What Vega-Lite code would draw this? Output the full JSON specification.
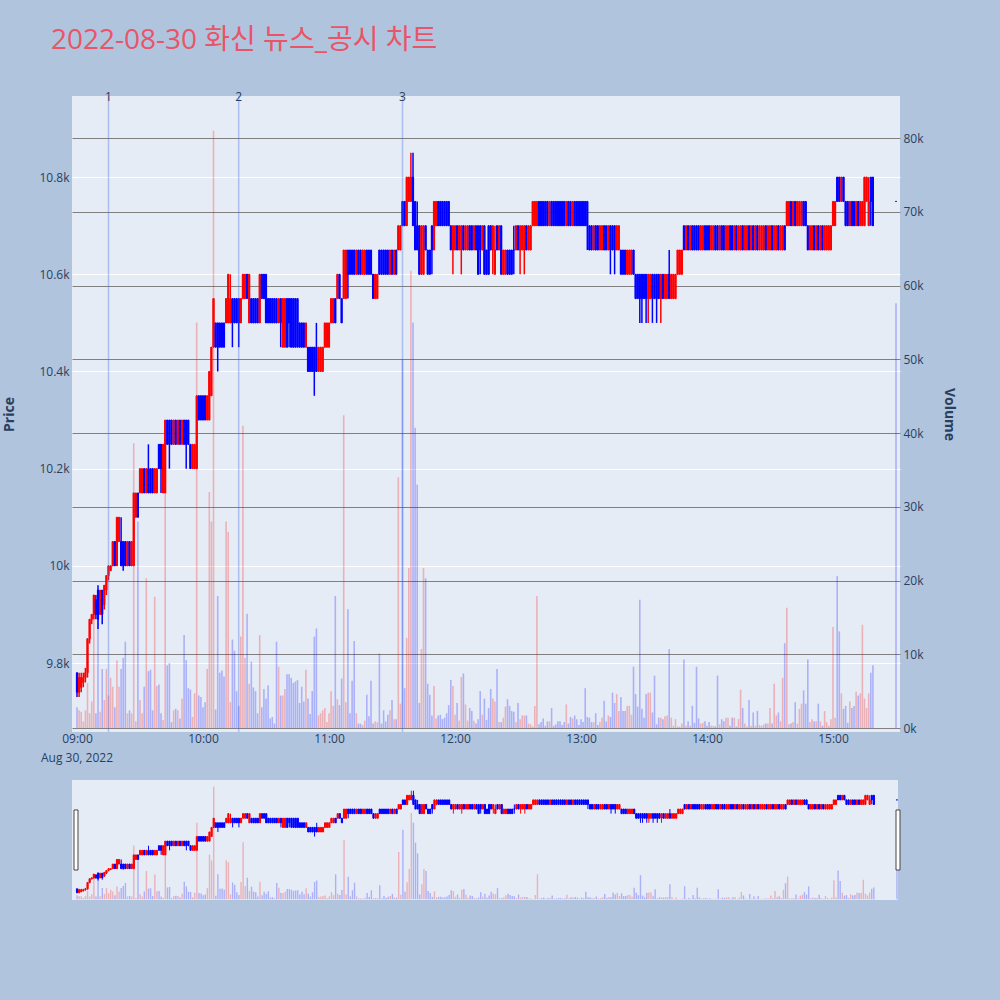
{
"$schema":"https://vega.github.io/schema/vega-lite/v6.json",
"padding":{"left":2,"top":27,"right":44,"bottom":100},
"title":{"text":"2022-08-30 화신 뉴스_공시 차트","anchor":"start","frame":"bounds","dx":48,"offset":36,"fontSize":28,"font":"Open Sans, Noto Sans CJK KR","fontWeight":"normal","color":"#EA5468"},
"config":{"background":"#B0C4DE","view":{"fill":"#E5ECF6","stroke":null},"font":"Open Sans","axis":{"labelColor":"#2a3f5f","titleColor":"#2a3f5f","labelFont":"Open Sans","titleFont":"Open Sans","labelFontSize":12,"titleFontSize":14,"domain":false,"ticks":false}},
"datasets":{
"news":[{"t":"2022-08-30 09:15","n":"1"},{"t":"2022-08-30 10:17","n":"2"},{"t":"2022-08-30 11:35","n":"3"}],
"date":[{"t":"2022-08-30 09:00"}],
"handles":[{"t":"2022-08-30 08:59:30"},{"t":"2022-08-30 15:30:30"}],
"candles":[
{"t":"2022-08-30 09:00","o":9780,"h":9780,"l":9730,"c":9740,"v":2800},
{"t":"2022-08-30 09:01","o":9740,"h":9780,"l":9730,"c":9770,"v":2400},
{"t":"2022-08-30 09:02","o":9750,"h":9780,"l":9740,"c":9770,"v":2200},
{"t":"2022-08-30 09:03","o":9760,"h":9780,"l":9750,"c":9770,"v":900},
{"t":"2022-08-30 09:04","o":9770,"h":9790,"l":9760,"c":9780,"v":2400},
{"t":"2022-08-30 09:05","o":9780,"h":9850,"l":9770,"c":9850,"v":6100},
{"t":"2022-08-30 09:06","o":9850,"h":9890,"l":9840,"c":9890,"v":2000},
{"t":"2022-08-30 09:07","o":9890,"h":9900,"l":9880,"c":9900,"v":3600},
{"t":"2022-08-30 09:08","o":9900,"h":9940,"l":9890,"c":9940,"v":18000},
{"t":"2022-08-30 09:09","o":9930,"h":9940,"l":9890,"c":9900,"v":2000},
{"t":"2022-08-30 09:10","o":9950,"h":9960,"l":9870,"c":9890,"v":14600},
{"t":"2022-08-30 09:11","o":9900,"h":9950,"l":9900,"c":9950,"v":2200},
{"t":"2022-08-30 09:12","o":9950,"h":9950,"l":9880,"c":9900,"v":8000},
{"t":"2022-08-30 09:13","o":9920,"h":9960,"l":9910,"c":9960,"v":3800},
{"t":"2022-08-30 09:14","o":9950,"h":9980,"l":9940,"c":9980,"v":8000},
{"t":"2022-08-30 09:15","o":9980,"h":10000,"l":9970,"c":10000,"v":4400},
{"t":"2022-08-30 09:16","o":9990,"h":10000,"l":9990,"c":10000,"v":6800},
{"t":"2022-08-30 09:17","o":10000,"h":10050,"l":10000,"c":10050,"v":5600},
{"t":"2022-08-30 09:18","o":10050,"h":10050,"l":10000,"c":10000,"v":2800},
{"t":"2022-08-30 09:19","o":10000,"h":10100,"l":10000,"c":10100,"v":9200},
{"t":"2022-08-30 09:20","o":10050,"h":10100,"l":10050,"c":10100,"v":5600},
{"t":"2022-08-30 09:21","o":10050,"h":10100,"l":10000,"c":10000,"v":8000},
{"t":"2022-08-30 09:22","o":10050,"h":10050,"l":9990,"c":10000,"v":9500},
{"t":"2022-08-30 09:23","o":10050,"h":10050,"l":10000,"c":10000,"v":11700},
{"t":"2022-08-30 09:24","o":10000,"h":10050,"l":10000,"c":10050,"v":2000},
{"t":"2022-08-30 09:25","o":10050,"h":10050,"l":10000,"c":10000,"v":2400},
{"t":"2022-08-30 09:26","o":10000,"h":10050,"l":10000,"c":10050,"v":2000},
{"t":"2022-08-30 09:27","o":10000,"h":10150,"l":10000,"c":10150,"v":38600},
{"t":"2022-08-30 09:28","o":10100,"h":10150,"l":10100,"c":10150,"v":900},
{"t":"2022-08-30 09:29","o":10150,"h":10150,"l":10100,"c":10100,"v":28000},
{"t":"2022-08-30 09:30","o":10150,"h":10200,"l":10150,"c":10200,"v":3800},
{"t":"2022-08-30 09:31","o":10150,"h":10200,"l":10150,"c":10200,"v":2000},
{"t":"2022-08-30 09:32","o":10200,"h":10200,"l":10150,"c":10150,"v":5600},
{"t":"2022-08-30 09:33","o":10150,"h":10200,"l":10150,"c":10200,"v":20300},
{"t":"2022-08-30 09:34","o":10200,"h":10250,"l":10150,"c":10150,"v":7700},
{"t":"2022-08-30 09:35","o":10200,"h":10200,"l":10150,"c":10150,"v":7900},
{"t":"2022-08-30 09:36","o":10200,"h":10200,"l":10150,"c":10150,"v":2400},
{"t":"2022-08-30 09:37","o":10150,"h":10200,"l":10150,"c":10200,"v":17800},
{"t":"2022-08-30 09:38","o":10150,"h":10200,"l":10150,"c":10200,"v":5700},
{"t":"2022-08-30 09:39","o":10250,"h":10250,"l":10200,"c":10200,"v":5900},
{"t":"2022-08-30 09:40","o":10250,"h":10250,"l":10150,"c":10200,"v":2000},
{"t":"2022-08-30 09:41","o":10150,"h":10250,"l":10150,"c":10250,"v":1100},
{"t":"2022-08-30 09:42","o":10150,"h":10300,"l":10150,"c":10300,"v":32000},
{"t":"2022-08-30 09:43","o":10300,"h":10300,"l":10250,"c":10250,"v":8500},
{"t":"2022-08-30 09:44","o":10300,"h":10300,"l":10200,"c":10250,"v":8800},
{"t":"2022-08-30 09:45","o":10300,"h":10300,"l":10250,"c":10250,"v":800},
{"t":"2022-08-30 09:46","o":10250,"h":10300,"l":10250,"c":10300,"v":2400},
{"t":"2022-08-30 09:47","o":10300,"h":10300,"l":10250,"c":10250,"v":2600},
{"t":"2022-08-30 09:48","o":10250,"h":10300,"l":10250,"c":10300,"v":2400},
{"t":"2022-08-30 09:49","o":10300,"h":10300,"l":10250,"c":10250,"v":1300},
{"t":"2022-08-30 09:50","o":10250,"h":10300,"l":10250,"c":10300,"v":4000},
{"t":"2022-08-30 09:51","o":10300,"h":10300,"l":10250,"c":10250,"v":12600},
{"t":"2022-08-30 09:52","o":10300,"h":10300,"l":10200,"c":10250,"v":9200},
{"t":"2022-08-30 09:53","o":10300,"h":10300,"l":10250,"c":10250,"v":5400},
{"t":"2022-08-30 09:54","o":10250,"h":10250,"l":10200,"c":10200,"v":5200},
{"t":"2022-08-30 09:55","o":10200,"h":10250,"l":10200,"c":10250,"v":1500},
{"t":"2022-08-30 09:56","o":10200,"h":10250,"l":10200,"c":10250,"v":4700},
{"t":"2022-08-30 09:57","o":10200,"h":10350,"l":10200,"c":10350,"v":55000},
{"t":"2022-08-30 09:58","o":10350,"h":10350,"l":10300,"c":10300,"v":4400},
{"t":"2022-08-30 09:59","o":10350,"h":10350,"l":10300,"c":10300,"v":4200},
{"t":"2022-08-30 10:00","o":10350,"h":10350,"l":10300,"c":10300,"v":2800},
{"t":"2022-08-30 10:01","o":10350,"h":10350,"l":10300,"c":10300,"v":3500},
{"t":"2022-08-30 10:02","o":10300,"h":10350,"l":10300,"c":10350,"v":8000},
{"t":"2022-08-30 10:03","o":10300,"h":10400,"l":10300,"c":10400,"v":32000},
{"t":"2022-08-30 10:04","o":10350,"h":10450,"l":10350,"c":10450,"v":28000},
{"t":"2022-08-30 10:05","o":10450,"h":10550,"l":10450,"c":10550,"v":81000},
{"t":"2022-08-30 10:06","o":10500,"h":10500,"l":10450,"c":10450,"v":2500},
{"t":"2022-08-30 10:07","o":10500,"h":10500,"l":10400,"c":10450,"v":17900},
{"t":"2022-08-30 10:08","o":10500,"h":10500,"l":10450,"c":10450,"v":7500},
{"t":"2022-08-30 10:09","o":10500,"h":10500,"l":10450,"c":10450,"v":7800},
{"t":"2022-08-30 10:10","o":10500,"h":10500,"l":10450,"c":10450,"v":7000},
{"t":"2022-08-30 10:11","o":10500,"h":10550,"l":10500,"c":10550,"v":28000},
{"t":"2022-08-30 10:12","o":10500,"h":10600,"l":10500,"c":10600,"v":26600},
{"t":"2022-08-30 10:13","o":10500,"h":10600,"l":10500,"c":10550,"v":3500},
{"t":"2022-08-30 10:14","o":10550,"h":10550,"l":10450,"c":10500,"v":12000},
{"t":"2022-08-30 10:15","o":10550,"h":10550,"l":10500,"c":10500,"v":10500},
{"t":"2022-08-30 10:16","o":10550,"h":10550,"l":10500,"c":10500,"v":5000},
{"t":"2022-08-30 10:17","o":10550,"h":10550,"l":10450,"c":10500,"v":3000},
{"t":"2022-08-30 10:18","o":10500,"h":10550,"l":10500,"c":10550,"v":12400},
{"t":"2022-08-30 10:19","o":10550,"h":10600,"l":10550,"c":10600,"v":41000},
{"t":"2022-08-30 10:20","o":10550,"h":10600,"l":10550,"c":10600,"v":9500},
{"t":"2022-08-30 10:21","o":10600,"h":10600,"l":10550,"c":10550,"v":15500},
{"t":"2022-08-30 10:22","o":10500,"h":10600,"l":10500,"c":10600,"v":6000},
{"t":"2022-08-30 10:23","o":10550,"h":10550,"l":10500,"c":10500,"v":9000},
{"t":"2022-08-30 10:24","o":10550,"h":10550,"l":10500,"c":10500,"v":5500},
{"t":"2022-08-30 10:25","o":10550,"h":10550,"l":10500,"c":10500,"v":5000},
{"t":"2022-08-30 10:26","o":10550,"h":10550,"l":10500,"c":10500,"v":2000},
{"t":"2022-08-30 10:27","o":10500,"h":10600,"l":10500,"c":10600,"v":12600},
{"t":"2022-08-30 10:28","o":10600,"h":10600,"l":10550,"c":10550,"v":2800},
{"t":"2022-08-30 10:29","o":10600,"h":10600,"l":10550,"c":10550,"v":5300},
{"t":"2022-08-30 10:30","o":10600,"h":10600,"l":10500,"c":10500,"v":4000},
{"t":"2022-08-30 10:31","o":10550,"h":10550,"l":10500,"c":10500,"v":5800},
{"t":"2022-08-30 10:32","o":10550,"h":10550,"l":10500,"c":10500,"v":1300},
{"t":"2022-08-30 10:33","o":10550,"h":10550,"l":10500,"c":10500,"v":1500},
{"t":"2022-08-30 10:34","o":10550,"h":10550,"l":10500,"c":10500,"v":600},
{"t":"2022-08-30 10:35","o":10550,"h":10550,"l":10500,"c":10500,"v":11700},
{"t":"2022-08-30 10:36","o":10500,"h":10550,"l":10500,"c":10550,"v":8300},
{"t":"2022-08-30 10:37","o":10550,"h":10550,"l":10450,"c":10500,"v":4400},
{"t":"2022-08-30 10:38","o":10450,"h":10550,"l":10450,"c":10550,"v":4400},
{"t":"2022-08-30 10:39","o":10450,"h":10550,"l":10450,"c":10550,"v":5300},
{"t":"2022-08-30 10:40","o":10550,"h":10550,"l":10450,"c":10450,"v":7300},
{"t":"2022-08-30 10:41","o":10550,"h":10550,"l":10450,"c":10500,"v":7300},
{"t":"2022-08-30 10:42","o":10550,"h":10550,"l":10450,"c":10450,"v":6800},
{"t":"2022-08-30 10:43","o":10550,"h":10550,"l":10450,"c":10450,"v":6100},
{"t":"2022-08-30 10:44","o":10550,"h":10550,"l":10450,"c":10450,"v":6300},
{"t":"2022-08-30 10:45","o":10550,"h":10550,"l":10450,"c":10450,"v":6500},
{"t":"2022-08-30 10:46","o":10500,"h":10500,"l":10450,"c":10450,"v":3400},
{"t":"2022-08-30 10:47","o":10500,"h":10500,"l":10450,"c":10450,"v":5600},
{"t":"2022-08-30 10:48","o":10500,"h":10500,"l":10450,"c":10450,"v":3600},
{"t":"2022-08-30 10:49","o":10450,"h":10500,"l":10450,"c":10500,"v":7900},
{"t":"2022-08-30 10:50","o":10450,"h":10450,"l":10400,"c":10400,"v":4000},
{"t":"2022-08-30 10:51","o":10450,"h":10450,"l":10400,"c":10400,"v":1900},
{"t":"2022-08-30 10:52","o":10450,"h":10450,"l":10400,"c":10400,"v":5000},
{"t":"2022-08-30 10:53","o":10450,"h":10450,"l":10350,"c":10400,"v":12400},
{"t":"2022-08-30 10:54","o":10450,"h":10500,"l":10400,"c":10400,"v":13500},
{"t":"2022-08-30 10:55","o":10400,"h":10450,"l":10400,"c":10450,"v":1700},
{"t":"2022-08-30 10:56","o":10400,"h":10450,"l":10400,"c":10450,"v":2000},
{"t":"2022-08-30 10:57","o":10400,"h":10450,"l":10400,"c":10450,"v":2400},
{"t":"2022-08-30 10:58","o":10450,"h":10500,"l":10450,"c":10500,"v":2700},
{"t":"2022-08-30 10:59","o":10450,"h":10500,"l":10450,"c":10500,"v":800},
{"t":"2022-08-30 11:00","o":10450,"h":10500,"l":10450,"c":10500,"v":2000},
{"t":"2022-08-30 11:01","o":10500,"h":10550,"l":10500,"c":10550,"v":5000},
{"t":"2022-08-30 11:02","o":10500,"h":10550,"l":10500,"c":10550,"v":3000},
{"t":"2022-08-30 11:03","o":10550,"h":10550,"l":10500,"c":10500,"v":17900},
{"t":"2022-08-30 11:04","o":10550,"h":10600,"l":10550,"c":10600,"v":3900},
{"t":"2022-08-30 11:05","o":10600,"h":10600,"l":10550,"c":10550,"v":3100},
{"t":"2022-08-30 11:06","o":10550,"h":10550,"l":10500,"c":10500,"v":6700},
{"t":"2022-08-30 11:07","o":10550,"h":10650,"l":10550,"c":10650,"v":42400},
{"t":"2022-08-30 11:08","o":10550,"h":10650,"l":10550,"c":10650,"v":3500},
{"t":"2022-08-30 11:09","o":10650,"h":10650,"l":10550,"c":10600,"v":16100},
{"t":"2022-08-30 11:10","o":10650,"h":10650,"l":10600,"c":10600,"v":2000},
{"t":"2022-08-30 11:11","o":10650,"h":10650,"l":10600,"c":10600,"v":6400},
{"t":"2022-08-30 11:12","o":10650,"h":10650,"l":10600,"c":10600,"v":11800},
{"t":"2022-08-30 11:13","o":10600,"h":10650,"l":10600,"c":10650,"v":2000},
{"t":"2022-08-30 11:14","o":10650,"h":10650,"l":10600,"c":10600,"v":600},
{"t":"2022-08-30 11:15","o":10650,"h":10650,"l":10600,"c":10600,"v":600},
{"t":"2022-08-30 11:16","o":10600,"h":10650,"l":10600,"c":10650,"v":400},
{"t":"2022-08-30 11:17","o":10600,"h":10650,"l":10600,"c":10650,"v":1000},
{"t":"2022-08-30 11:18","o":10650,"h":10650,"l":10600,"c":10600,"v":4500},
{"t":"2022-08-30 11:19","o":10650,"h":10650,"l":10600,"c":10600,"v":1600},
{"t":"2022-08-30 11:20","o":10650,"h":10650,"l":10600,"c":10600,"v":6400},
{"t":"2022-08-30 11:21","o":10600,"h":10600,"l":10550,"c":10550,"v":600},
{"t":"2022-08-30 11:22","o":10550,"h":10600,"l":10550,"c":10600,"v":900},
{"t":"2022-08-30 11:23","o":10550,"h":10600,"l":10550,"c":10600,"v":800},
{"t":"2022-08-30 11:24","o":10650,"h":10650,"l":10600,"c":10600,"v":10100},
{"t":"2022-08-30 11:25","o":10650,"h":10650,"l":10600,"c":10600,"v":600},
{"t":"2022-08-30 11:26","o":10650,"h":10650,"l":10600,"c":10600,"v":2400},
{"t":"2022-08-30 11:27","o":10650,"h":10650,"l":10600,"c":10600,"v":900},
{"t":"2022-08-30 11:28","o":10650,"h":10650,"l":10600,"c":10600,"v":1800},
{"t":"2022-08-30 11:29","o":10600,"h":10650,"l":10600,"c":10650,"v":2400},
{"t":"2022-08-30 11:30","o":10650,"h":10650,"l":10600,"c":10600,"v":3800},
{"t":"2022-08-30 11:31","o":10600,"h":10650,"l":10600,"c":10650,"v":1200},
{"t":"2022-08-30 11:32","o":10650,"h":10650,"l":10600,"c":10600,"v":1200},
{"t":"2022-08-30 11:33","o":10650,"h":10700,"l":10650,"c":10700,"v":34000},
{"t":"2022-08-30 11:34","o":10650,"h":10700,"l":10650,"c":10700,"v":3300},
{"t":"2022-08-30 11:35","o":10750,"h":10750,"l":10700,"c":10700,"v":50000},
{"t":"2022-08-30 11:36","o":10750,"h":10750,"l":10700,"c":10700,"v":5400},
{"t":"2022-08-30 11:37","o":10700,"h":10800,"l":10700,"c":10800,"v":12200},
{"t":"2022-08-30 11:38","o":10750,"h":10800,"l":10750,"c":10800,"v":21700},
{"t":"2022-08-30 11:39","o":10750,"h":10850,"l":10750,"c":10800,"v":62000},
{"t":"2022-08-30 11:40","o":10800,"h":10850,"l":10700,"c":10700,"v":55000},
{"t":"2022-08-30 11:41","o":10750,"h":10750,"l":10650,"c":10650,"v":40700},
{"t":"2022-08-30 11:42","o":10700,"h":10750,"l":10650,"c":10650,"v":33000},
{"t":"2022-08-30 11:43","o":10700,"h":10700,"l":10600,"c":10600,"v":3400},
{"t":"2022-08-30 11:44","o":10600,"h":10700,"l":10600,"c":10700,"v":10700},
{"t":"2022-08-30 11:45","o":10600,"h":10700,"l":10600,"c":10700,"v":21700},
{"t":"2022-08-30 11:46","o":10700,"h":10700,"l":10650,"c":10650,"v":20300},
{"t":"2022-08-30 11:47","o":10650,"h":10650,"l":10600,"c":10600,"v":6000},
{"t":"2022-08-30 11:48","o":10650,"h":10650,"l":10600,"c":10600,"v":4500},
{"t":"2022-08-30 11:49","o":10700,"h":10700,"l":10600,"c":10650,"v":1700},
{"t":"2022-08-30 11:50","o":10650,"h":10750,"l":10650,"c":10750,"v":5700},
{"t":"2022-08-30 11:51","o":10700,"h":10750,"l":10700,"c":10750,"v":1300},
{"t":"2022-08-30 11:52","o":10750,"h":10750,"l":10700,"c":10700,"v":1700},
{"t":"2022-08-30 11:53","o":10750,"h":10750,"l":10700,"c":10700,"v":1800},
{"t":"2022-08-30 11:54","o":10750,"h":10750,"l":10700,"c":10700,"v":1200},
{"t":"2022-08-30 11:55","o":10750,"h":10750,"l":10700,"c":10700,"v":1400},
{"t":"2022-08-30 11:56","o":10750,"h":10750,"l":10700,"c":10700,"v":2000},
{"t":"2022-08-30 11:57","o":10750,"h":10750,"l":10700,"c":10700,"v":3100},
{"t":"2022-08-30 11:58","o":10700,"h":10700,"l":10650,"c":10650,"v":6500},
{"t":"2022-08-30 11:59","o":10650,"h":10700,"l":10600,"c":10700,"v":5700},
{"t":"2022-08-30 12:00","o":10650,"h":10700,"l":10650,"c":10700,"v":1800},
{"t":"2022-08-30 12:01","o":10700,"h":10700,"l":10650,"c":10650,"v":3400},
{"t":"2022-08-30 12:02","o":10650,"h":10700,"l":10650,"c":10700,"v":1000},
{"t":"2022-08-30 12:03","o":10650,"h":10700,"l":10600,"c":10700,"v":6900},
{"t":"2022-08-30 12:04","o":10700,"h":10700,"l":10650,"c":10650,"v":7400},
{"t":"2022-08-30 12:05","o":10650,"h":10700,"l":10650,"c":10700,"v":3200},
{"t":"2022-08-30 12:06","o":10650,"h":10700,"l":10650,"c":10700,"v":1000},
{"t":"2022-08-30 12:07","o":10700,"h":10700,"l":10650,"c":10650,"v":2700},
{"t":"2022-08-30 12:08","o":10700,"h":10700,"l":10650,"c":10650,"v":2300},
{"t":"2022-08-30 12:09","o":10650,"h":10700,"l":10650,"c":10700,"v":1000},
{"t":"2022-08-30 12:10","o":10700,"h":10700,"l":10650,"c":10650,"v":600},
{"t":"2022-08-30 12:11","o":10700,"h":10700,"l":10600,"c":10600,"v":1200},
{"t":"2022-08-30 12:12","o":10700,"h":10700,"l":10600,"c":10650,"v":5000},
{"t":"2022-08-30 12:13","o":10650,"h":10700,"l":10650,"c":10700,"v":1800},
{"t":"2022-08-30 12:14","o":10700,"h":10700,"l":10600,"c":10600,"v":4000},
{"t":"2022-08-30 12:15","o":10650,"h":10650,"l":10600,"c":10600,"v":1100},
{"t":"2022-08-30 12:16","o":10700,"h":10700,"l":10600,"c":10600,"v":2700},
{"t":"2022-08-30 12:17","o":10700,"h":10700,"l":10650,"c":10650,"v":5300},
{"t":"2022-08-30 12:18","o":10650,"h":10700,"l":10600,"c":10700,"v":4000},
{"t":"2022-08-30 12:19","o":10600,"h":10700,"l":10600,"c":10650,"v":3600},
{"t":"2022-08-30 12:20","o":10700,"h":10700,"l":10650,"c":10650,"v":8000},
{"t":"2022-08-30 12:21","o":10650,"h":10700,"l":10650,"c":10700,"v":800},
{"t":"2022-08-30 12:22","o":10700,"h":10700,"l":10600,"c":10600,"v":800},
{"t":"2022-08-30 12:23","o":10600,"h":10650,"l":10600,"c":10650,"v":1400},
{"t":"2022-08-30 12:24","o":10600,"h":10650,"l":10600,"c":10650,"v":2900},
{"t":"2022-08-30 12:25","o":10650,"h":10650,"l":10600,"c":10600,"v":3900},
{"t":"2022-08-30 12:26","o":10650,"h":10650,"l":10600,"c":10600,"v":3000},
{"t":"2022-08-30 12:27","o":10650,"h":10650,"l":10600,"c":10600,"v":2300},
{"t":"2022-08-30 12:28","o":10650,"h":10700,"l":10600,"c":10650,"v":2200},
{"t":"2022-08-30 12:29","o":10650,"h":10700,"l":10650,"c":10700,"v":800},
{"t":"2022-08-30 12:30","o":10700,"h":10700,"l":10650,"c":10650,"v":3400},
{"t":"2022-08-30 12:31","o":10650,"h":10700,"l":10600,"c":10700,"v":1200},
{"t":"2022-08-30 12:32","o":10650,"h":10700,"l":10650,"c":10700,"v":1700},
{"t":"2022-08-30 12:33","o":10650,"h":10700,"l":10600,"c":10700,"v":1700},
{"t":"2022-08-30 12:34","o":10700,"h":10700,"l":10650,"c":10650,"v":1700},
{"t":"2022-08-30 12:35","o":10650,"h":10700,"l":10650,"c":10700,"v":600},
{"t":"2022-08-30 12:36","o":10650,"h":10700,"l":10650,"c":10700,"v":500},
{"t":"2022-08-30 12:37","o":10700,"h":10750,"l":10700,"c":10750,"v":200},
{"t":"2022-08-30 12:38","o":10700,"h":10750,"l":10700,"c":10750,"v":3000},
{"t":"2022-08-30 12:39","o":10700,"h":10750,"l":10700,"c":10750,"v":17900},
{"t":"2022-08-30 12:40","o":10750,"h":10750,"l":10700,"c":10700,"v":500},
{"t":"2022-08-30 12:41","o":10750,"h":10750,"l":10700,"c":10700,"v":800},
{"t":"2022-08-30 12:42","o":10750,"h":10750,"l":10700,"c":10700,"v":1300},
{"t":"2022-08-30 12:43","o":10750,"h":10750,"l":10700,"c":10700,"v":300},
{"t":"2022-08-30 12:44","o":10750,"h":10750,"l":10700,"c":10700,"v":900},
{"t":"2022-08-30 12:45","o":10700,"h":10750,"l":10700,"c":10750,"v":900},
{"t":"2022-08-30 12:46","o":10750,"h":10750,"l":10700,"c":10700,"v":2700},
{"t":"2022-08-30 12:47","o":10750,"h":10750,"l":10700,"c":10700,"v":300},
{"t":"2022-08-30 12:48","o":10750,"h":10750,"l":10700,"c":10700,"v":500},
{"t":"2022-08-30 12:49","o":10750,"h":10750,"l":10700,"c":10700,"v":900},
{"t":"2022-08-30 12:50","o":10750,"h":10750,"l":10700,"c":10700,"v":900},
{"t":"2022-08-30 12:51","o":10750,"h":10750,"l":10700,"c":10700,"v":400},
{"t":"2022-08-30 12:52","o":10750,"h":10750,"l":10700,"c":10700,"v":800},
{"t":"2022-08-30 12:53","o":10700,"h":10750,"l":10700,"c":10750,"v":3200},
{"t":"2022-08-30 12:54","o":10750,"h":10750,"l":10700,"c":10700,"v":600},
{"t":"2022-08-30 12:55","o":10750,"h":10750,"l":10700,"c":10700,"v":1500},
{"t":"2022-08-30 12:56","o":10700,"h":10750,"l":10700,"c":10750,"v":1300},
{"t":"2022-08-30 12:57","o":10750,"h":10750,"l":10700,"c":10700,"v":1700},
{"t":"2022-08-30 12:58","o":10750,"h":10750,"l":10700,"c":10700,"v":1200},
{"t":"2022-08-30 12:59","o":10750,"h":10750,"l":10700,"c":10700,"v":400},
{"t":"2022-08-30 13:00","o":10750,"h":10750,"l":10700,"c":10700,"v":1200},
{"t":"2022-08-30 13:01","o":10750,"h":10750,"l":10700,"c":10700,"v":800},
{"t":"2022-08-30 13:02","o":10750,"h":10750,"l":10700,"c":10700,"v":5400},
{"t":"2022-08-30 13:03","o":10750,"h":10750,"l":10650,"c":10700,"v":1500},
{"t":"2022-08-30 13:04","o":10700,"h":10700,"l":10650,"c":10650,"v":1400},
{"t":"2022-08-30 13:05","o":10700,"h":10700,"l":10650,"c":10650,"v":800},
{"t":"2022-08-30 13:06","o":10650,"h":10700,"l":10650,"c":10700,"v":800},
{"t":"2022-08-30 13:07","o":10700,"h":10700,"l":10650,"c":10650,"v":2000},
{"t":"2022-08-30 13:08","o":10700,"h":10700,"l":10650,"c":10650,"v":400},
{"t":"2022-08-30 13:09","o":10650,"h":10700,"l":10650,"c":10700,"v":800},
{"t":"2022-08-30 13:10","o":10650,"h":10700,"l":10650,"c":10700,"v":1400},
{"t":"2022-08-30 13:11","o":10700,"h":10700,"l":10650,"c":10650,"v":3700},
{"t":"2022-08-30 13:12","o":10700,"h":10700,"l":10650,"c":10650,"v":900},
{"t":"2022-08-30 13:13","o":10650,"h":10700,"l":10650,"c":10700,"v":1700},
{"t":"2022-08-30 13:14","o":10700,"h":10700,"l":10600,"c":10650,"v":1500},
{"t":"2022-08-30 13:15","o":10700,"h":10700,"l":10650,"c":10650,"v":4800},
{"t":"2022-08-30 13:16","o":10700,"h":10700,"l":10600,"c":10650,"v":3400},
{"t":"2022-08-30 13:17","o":10650,"h":10700,"l":10650,"c":10700,"v":4600},
{"t":"2022-08-30 13:18","o":10650,"h":10700,"l":10650,"c":10700,"v":2300},
{"t":"2022-08-30 13:19","o":10650,"h":10650,"l":10600,"c":10600,"v":4200},
{"t":"2022-08-30 13:20","o":10650,"h":10650,"l":10600,"c":10600,"v":2300},
{"t":"2022-08-30 13:21","o":10650,"h":10650,"l":10600,"c":10600,"v":2300},
{"t":"2022-08-30 13:22","o":10600,"h":10650,"l":10600,"c":10650,"v":3000},
{"t":"2022-08-30 13:23","o":10600,"h":10650,"l":10600,"c":10650,"v":3000},
{"t":"2022-08-30 13:24","o":10600,"h":10650,"l":10600,"c":10650,"v":1800},
{"t":"2022-08-30 13:25","o":10650,"h":10650,"l":10600,"c":10600,"v":8300},
{"t":"2022-08-30 13:26","o":10600,"h":10600,"l":10550,"c":10550,"v":4600},
{"t":"2022-08-30 13:27","o":10600,"h":10600,"l":10550,"c":10550,"v":2900},
{"t":"2022-08-30 13:28","o":10600,"h":10600,"l":10500,"c":10550,"v":17400},
{"t":"2022-08-30 13:29","o":10600,"h":10600,"l":10500,"c":10550,"v":2600},
{"t":"2022-08-30 13:30","o":10600,"h":10600,"l":10550,"c":10550,"v":1400},
{"t":"2022-08-30 13:31","o":10600,"h":10600,"l":10500,"c":10550,"v":4600},
{"t":"2022-08-30 13:32","o":10550,"h":10600,"l":10500,"c":10600,"v":4800},
{"t":"2022-08-30 13:33","o":10550,"h":10600,"l":10550,"c":10600,"v":4800},
{"t":"2022-08-30 13:34","o":10600,"h":10600,"l":10500,"c":10550,"v":2100},
{"t":"2022-08-30 13:35","o":10600,"h":10600,"l":10550,"c":10550,"v":7100},
{"t":"2022-08-30 13:36","o":10600,"h":10600,"l":10500,"c":10550,"v":500},
{"t":"2022-08-30 13:37","o":10600,"h":10600,"l":10550,"c":10550,"v":1400},
{"t":"2022-08-30 13:38","o":10550,"h":10600,"l":10500,"c":10600,"v":1400},
{"t":"2022-08-30 13:39","o":10600,"h":10600,"l":10550,"c":10550,"v":1200},
{"t":"2022-08-30 13:40","o":10550,"h":10600,"l":10550,"c":10600,"v":1600},
{"t":"2022-08-30 13:41","o":10550,"h":10600,"l":10550,"c":10600,"v":1700},
{"t":"2022-08-30 13:42","o":10600,"h":10650,"l":10550,"c":10550,"v":10700},
{"t":"2022-08-30 13:43","o":10550,"h":10600,"l":10550,"c":10600,"v":1400},
{"t":"2022-08-30 13:44","o":10550,"h":10600,"l":10550,"c":10600,"v":300},
{"t":"2022-08-30 13:45","o":10550,"h":10600,"l":10550,"c":10600,"v":1200},
{"t":"2022-08-30 13:46","o":10600,"h":10650,"l":10600,"c":10650,"v":200},
{"t":"2022-08-30 13:47","o":10600,"h":10650,"l":10600,"c":10650,"v":200},
{"t":"2022-08-30 13:48","o":10600,"h":10650,"l":10600,"c":10650,"v":600},
{"t":"2022-08-30 13:49","o":10700,"h":10700,"l":10650,"c":10650,"v":9300},
{"t":"2022-08-30 13:50","o":10650,"h":10700,"l":10650,"c":10700,"v":300},
{"t":"2022-08-30 13:51","o":10700,"h":10700,"l":10650,"c":10650,"v":900},
{"t":"2022-08-30 13:52","o":10650,"h":10700,"l":10650,"c":10700,"v":300},
{"t":"2022-08-30 13:53","o":10700,"h":10700,"l":10650,"c":10650,"v":3000},
{"t":"2022-08-30 13:54","o":10700,"h":10700,"l":10650,"c":10650,"v":700},
{"t":"2022-08-30 13:55","o":10700,"h":10700,"l":10650,"c":10650,"v":8300},
{"t":"2022-08-30 13:56","o":10700,"h":10700,"l":10650,"c":10650,"v":1300},
{"t":"2022-08-30 13:57","o":10650,"h":10700,"l":10650,"c":10700,"v":600},
{"t":"2022-08-30 13:58","o":10650,"h":10700,"l":10650,"c":10700,"v":700},
{"t":"2022-08-30 13:59","o":10700,"h":10700,"l":10650,"c":10650,"v":900},
{"t":"2022-08-30 14:00","o":10700,"h":10700,"l":10650,"c":10650,"v":300},
{"t":"2022-08-30 14:01","o":10700,"h":10700,"l":10650,"c":10650,"v":800},
{"t":"2022-08-30 14:02","o":10650,"h":10700,"l":10650,"c":10700,"v":300},
{"t":"2022-08-30 14:03","o":10650,"h":10700,"l":10650,"c":10700,"v":300},
{"t":"2022-08-30 14:04","o":10700,"h":10700,"l":10650,"c":10650,"v":200},
{"t":"2022-08-30 14:05","o":10700,"h":10700,"l":10650,"c":10650,"v":7100},
{"t":"2022-08-30 14:06","o":10650,"h":10700,"l":10650,"c":10700,"v":500},
{"t":"2022-08-30 14:07","o":10700,"h":10700,"l":10650,"c":10650,"v":1200},
{"t":"2022-08-30 14:08","o":10700,"h":10700,"l":10650,"c":10650,"v":900},
{"t":"2022-08-30 14:09","o":10650,"h":10700,"l":10650,"c":10700,"v":1400},
{"t":"2022-08-30 14:10","o":10650,"h":10700,"l":10650,"c":10700,"v":1400},
{"t":"2022-08-30 14:11","o":10700,"h":10700,"l":10650,"c":10650,"v":300},
{"t":"2022-08-30 14:12","o":10700,"h":10700,"l":10650,"c":10650,"v":1400},
{"t":"2022-08-30 14:13","o":10650,"h":10700,"l":10650,"c":10700,"v":1400},
{"t":"2022-08-30 14:14","o":10700,"h":10700,"l":10650,"c":10650,"v":200},
{"t":"2022-08-30 14:15","o":10650,"h":10700,"l":10650,"c":10700,"v":1200},
{"t":"2022-08-30 14:16","o":10650,"h":10700,"l":10650,"c":10700,"v":5200},
{"t":"2022-08-30 14:17","o":10700,"h":10700,"l":10650,"c":10650,"v":2700},
{"t":"2022-08-30 14:18","o":10650,"h":10700,"l":10650,"c":10700,"v":600},
{"t":"2022-08-30 14:19","o":10650,"h":10700,"l":10650,"c":10700,"v":200},
{"t":"2022-08-30 14:20","o":10700,"h":10700,"l":10650,"c":10650,"v":3800},
{"t":"2022-08-30 14:21","o":10650,"h":10700,"l":10650,"c":10700,"v":300},
{"t":"2022-08-30 14:22","o":10700,"h":10700,"l":10650,"c":10650,"v":2100},
{"t":"2022-08-30 14:23","o":10650,"h":10700,"l":10650,"c":10700,"v":300},
{"t":"2022-08-30 14:24","o":10700,"h":10700,"l":10650,"c":10650,"v":2300},
{"t":"2022-08-30 14:25","o":10650,"h":10700,"l":10650,"c":10700,"v":400},
{"t":"2022-08-30 14:26","o":10650,"h":10700,"l":10650,"c":10700,"v":300},
{"t":"2022-08-30 14:27","o":10650,"h":10700,"l":10650,"c":10700,"v":500},
{"t":"2022-08-30 14:28","o":10700,"h":10700,"l":10650,"c":10650,"v":600},
{"t":"2022-08-30 14:29","o":10650,"h":10700,"l":10650,"c":10700,"v":600},
{"t":"2022-08-30 14:30","o":10650,"h":10700,"l":10650,"c":10700,"v":2700},
{"t":"2022-08-30 14:31","o":10700,"h":10700,"l":10650,"c":10650,"v":600},
{"t":"2022-08-30 14:32","o":10650,"h":10700,"l":10650,"c":10700,"v":6000},
{"t":"2022-08-30 14:33","o":10650,"h":10700,"l":10650,"c":10700,"v":1700},
{"t":"2022-08-30 14:34","o":10700,"h":10700,"l":10650,"c":10650,"v":2100},
{"t":"2022-08-30 14:35","o":10650,"h":10700,"l":10650,"c":10700,"v":900},
{"t":"2022-08-30 14:36","o":10650,"h":10700,"l":10650,"c":10700,"v":6800},
{"t":"2022-08-30 14:37","o":10700,"h":10700,"l":10650,"c":10650,"v":11500},
{"t":"2022-08-30 14:38","o":10700,"h":10750,"l":10700,"c":10750,"v":16300},
{"t":"2022-08-30 14:39","o":10700,"h":10750,"l":10700,"c":10750,"v":500},
{"t":"2022-08-30 14:40","o":10750,"h":10750,"l":10700,"c":10700,"v":600},
{"t":"2022-08-30 14:41","o":10700,"h":10750,"l":10700,"c":10750,"v":800},
{"t":"2022-08-30 14:42","o":10750,"h":10750,"l":10700,"c":10700,"v":3500},
{"t":"2022-08-30 14:43","o":10700,"h":10750,"l":10700,"c":10750,"v":600},
{"t":"2022-08-30 14:44","o":10700,"h":10750,"l":10700,"c":10750,"v":2600},
{"t":"2022-08-30 14:45","o":10700,"h":10750,"l":10700,"c":10750,"v":3300},
{"t":"2022-08-30 14:46","o":10750,"h":10750,"l":10700,"c":10700,"v":5100},
{"t":"2022-08-30 14:47","o":10750,"h":10750,"l":10700,"c":10700,"v":3300},
{"t":"2022-08-30 14:48","o":10700,"h":10700,"l":10650,"c":10650,"v":9300},
{"t":"2022-08-30 14:49","o":10650,"h":10700,"l":10650,"c":10700,"v":800},
{"t":"2022-08-30 14:50","o":10650,"h":10700,"l":10650,"c":10700,"v":1200},
{"t":"2022-08-30 14:51","o":10700,"h":10700,"l":10650,"c":10650,"v":900},
{"t":"2022-08-30 14:52","o":10650,"h":10700,"l":10650,"c":10700,"v":900},
{"t":"2022-08-30 14:53","o":10700,"h":10700,"l":10650,"c":10650,"v":3300},
{"t":"2022-08-30 14:54","o":10650,"h":10700,"l":10650,"c":10700,"v":900},
{"t":"2022-08-30 14:55","o":10700,"h":10700,"l":10650,"c":10650,"v":300},
{"t":"2022-08-30 14:56","o":10650,"h":10700,"l":10650,"c":10700,"v":2300},
{"t":"2022-08-30 14:57","o":10650,"h":10700,"l":10650,"c":10700,"v":800},
{"t":"2022-08-30 14:58","o":10650,"h":10700,"l":10650,"c":10700,"v":300},
{"t":"2022-08-30 14:59","o":10650,"h":10700,"l":10650,"c":10700,"v":1200},
{"t":"2022-08-30 15:00","o":10700,"h":10750,"l":10700,"c":10750,"v":13700},
{"t":"2022-08-30 15:01","o":10700,"h":10750,"l":10700,"c":10750,"v":1400},
{"t":"2022-08-30 15:02","o":10800,"h":10800,"l":10750,"c":10750,"v":20600},
{"t":"2022-08-30 15:03","o":10800,"h":10800,"l":10750,"c":10750,"v":13100},
{"t":"2022-08-30 15:04","o":10750,"h":10800,"l":10750,"c":10800,"v":4700},
{"t":"2022-08-30 15:05","o":10800,"h":10800,"l":10750,"c":10750,"v":2600},
{"t":"2022-08-30 15:06","o":10750,"h":10750,"l":10700,"c":10700,"v":3000},
{"t":"2022-08-30 15:07","o":10750,"h":10750,"l":10700,"c":10700,"v":700},
{"t":"2022-08-30 15:08","o":10700,"h":10750,"l":10700,"c":10750,"v":3600},
{"t":"2022-08-30 15:09","o":10750,"h":10750,"l":10700,"c":10700,"v":2700},
{"t":"2022-08-30 15:10","o":10750,"h":10750,"l":10700,"c":10700,"v":3000},
{"t":"2022-08-30 15:11","o":10700,"h":10750,"l":10700,"c":10750,"v":4900},
{"t":"2022-08-30 15:12","o":10750,"h":10750,"l":10700,"c":10700,"v":4400},
{"t":"2022-08-30 15:13","o":10700,"h":10750,"l":10700,"c":10750,"v":4700},
{"t":"2022-08-30 15:14","o":10700,"h":10750,"l":10700,"c":10750,"v":14000},
{"t":"2022-08-30 15:15","o":10700,"h":10800,"l":10700,"c":10800,"v":4000},
{"t":"2022-08-30 15:16","o":10750,"h":10800,"l":10750,"c":10800,"v":2700},
{"t":"2022-08-30 15:17","o":10700,"h":10800,"l":10700,"c":10750,"v":4700},
{"t":"2022-08-30 15:18","o":10800,"h":10800,"l":10700,"c":10750,"v":7500},
{"t":"2022-08-30 15:19","o":10800,"h":10800,"l":10700,"c":10700,"v":8500},
{"t":"2022-08-30 15:30","o":10750,"h":10750,"l":10750,"c":10750,"v":57600}
]},
"vconcat":[
{"width":828,"height":636,
 "layer":[
  {"layer":[
   {"data":{"name":"candles"},"mark":{"type":"bar","width":1.6,"opacity":0.25},
    "encoding":{
     "x":{"field":"t","type":"temporal","scale":{"nice":false,"padding":0,"domain":[{"year":2022,"month":8,"date":30,"hours":8,"minutes":57,"seconds":37},{"year":2022,"month":8,"date":30,"hours":15,"minutes":31,"seconds":54}]},
      "axis":{"title":null,"grid":false,"format":"%H:%M","labelPadding":1,"labelFlush":false,"values":[{"year":2022,"month":8,"date":30,"hours":9},{"year":2022,"month":8,"date":30,"hours":10},{"year":2022,"month":8,"date":30,"hours":11},{"year":2022,"month":8,"date":30,"hours":12},{"year":2022,"month":8,"date":30,"hours":13},{"year":2022,"month":8,"date":30,"hours":14},{"year":2022,"month":8,"date":30,"hours":15}]}},
     "y":{"field":"v","type":"quantitative","scale":{"domain":[-542,85695],"nice":false,"zero":false},
      "axis":{"orient":"right","title":"Volume","titleFontWeight":"bold","values":[0,10000,20000,30000,40000,50000,60000,70000,80000],"format":"~s","grid":true,"gridColor":"#808080","gridWidth":1,"labelPadding":3,"titlePadding":18}},
     "y2":{"datum":0},
     "color":{"condition":{"test":"datum.c > datum.o","value":"#ff0000"},"value":"#0000ff"}}}
  ]},
  {"layer":[
   {"data":{"name":"candles"},"mark":{"type":"rule","strokeWidth":1.5},
    "encoding":{
     "x":{"field":"t","type":"temporal","axis":{"title":null,"grid":false,"format":"%H:%M","labelPadding":1,"labelFlush":false,"values":[{"year":2022,"month":8,"date":30,"hours":9},{"year":2022,"month":8,"date":30,"hours":10},{"year":2022,"month":8,"date":30,"hours":11},{"year":2022,"month":8,"date":30,"hours":12},{"year":2022,"month":8,"date":30,"hours":13},{"year":2022,"month":8,"date":30,"hours":14},{"year":2022,"month":8,"date":30,"hours":15}]}},
     "y":{"field":"l","type":"quantitative","scale":{"domain":[9658,10967],"nice":false,"zero":false},
      "axis":{"orient":"left","title":"Price","titleFontWeight":"bold","values":[9800,10000,10200,10400,10600,10800],"format":".3~s","grid":true,"gridColor":"#ffffff","gridWidth":1,"labelPadding":3,"titlePadding":22}},
     "y2":{"field":"h"},
     "color":{"condition":{"test":"datum.c > datum.o","value":"#ff0000"},"value":"#0000ff"}}},
   {"data":{"name":"candles"},"mark":{"type":"bar","width":1.2,"strokeWidth":1},
    "encoding":{
     "x":{"field":"t","type":"temporal","axis":{"title":null,"grid":false,"format":"%H:%M","labelPadding":1,"labelFlush":false,"values":[{"year":2022,"month":8,"date":30,"hours":9},{"year":2022,"month":8,"date":30,"hours":10},{"year":2022,"month":8,"date":30,"hours":11},{"year":2022,"month":8,"date":30,"hours":12},{"year":2022,"month":8,"date":30,"hours":13},{"year":2022,"month":8,"date":30,"hours":14},{"year":2022,"month":8,"date":30,"hours":15}]}},
     "y":{"field":"o","type":"quantitative","axis":{"orient":"left","title":"Price","titleFontWeight":"bold","values":[9800,10000,10200,10400,10600,10800],"format":".3~s","grid":true,"gridColor":"#ffffff","gridWidth":1,"labelPadding":3,"titlePadding":22}},
     "y2":{"field":"c"},
     "color":{"condition":{"test":"datum.c > datum.o","value":"#ff0000"},"value":"#0000ff"},
     "stroke":{"condition":{"test":"datum.c > datum.o","value":"#ff0000"},"value":"#0000ff"}}},
   {"data":{"name":"news"},"mark":{"type":"rule","color":"royalblue","opacity":0.35,"strokeWidth":1.5},
    "encoding":{
     "x":{"field":"t","type":"temporal","axis":{"title":null,"grid":false,"format":"%H:%M","labelPadding":1,"labelFlush":false,"values":[{"year":2022,"month":8,"date":30,"hours":9},{"year":2022,"month":8,"date":30,"hours":10},{"year":2022,"month":8,"date":30,"hours":11},{"year":2022,"month":8,"date":30,"hours":12},{"year":2022,"month":8,"date":30,"hours":13},{"year":2022,"month":8,"date":30,"hours":14},{"year":2022,"month":8,"date":30,"hours":15}]}}}},
   {"data":{"name":"news"},"mark":{"type":"text","baseline":"middle","align":"center","fontSize":12,"color":"#2a3f5f","font":"Open Sans"},
    "encoding":{
     "x":{"field":"t","type":"temporal","axis":{"title":null,"grid":false,"format":"%H:%M","labelPadding":1,"labelFlush":false,"values":[{"year":2022,"month":8,"date":30,"hours":9},{"year":2022,"month":8,"date":30,"hours":10},{"year":2022,"month":8,"date":30,"hours":11},{"year":2022,"month":8,"date":30,"hours":12},{"year":2022,"month":8,"date":30,"hours":13},{"year":2022,"month":8,"date":30,"hours":14},{"year":2022,"month":8,"date":30,"hours":15}]}},
     "y":{"datum":10964,"type":"quantitative","axis":{"orient":"left","title":"Price","titleFontWeight":"bold","values":[9800,10000,10200,10400,10600,10800],"format":".3~s","grid":true,"gridColor":"#ffffff","gridWidth":1,"labelPadding":3,"titlePadding":22}},
     "text":{"field":"n"}}},
   {"data":{"name":"date"},"mark":{"type":"text","baseline":"middle","align":"center","fontSize":12,"color":"#2a3f5f","font":"Open Sans"},
    "encoding":{
     "x":{"field":"t","type":"temporal","axis":{"title":null,"grid":false,"format":"%H:%M","labelPadding":1,"labelFlush":false,"values":[{"year":2022,"month":8,"date":30,"hours":9},{"year":2022,"month":8,"date":30,"hours":10},{"year":2022,"month":8,"date":30,"hours":11},{"year":2022,"month":8,"date":30,"hours":12},{"year":2022,"month":8,"date":30,"hours":13},{"year":2022,"month":8,"date":30,"hours":14},{"year":2022,"month":8,"date":30,"hours":15}]}},
     "y":{"datum":9604,"type":"quantitative","axis":{"orient":"left","title":"Price","titleFontWeight":"bold","values":[9800,10000,10200,10400,10600,10800],"format":".3~s","grid":true,"gridColor":"#ffffff","gridWidth":1,"labelPadding":3,"titlePadding":22}},
     "text":{"field":"t","type":"temporal","format":"%b %-d, %Y"}}}
  ]}
 ],
 "resolve":{"scale":{"y":"independent"}}
},
{"width":826,"height":120,
 "layer":[
  {"layer":[
   {"data":{"name":"candles"},"mark":{"type":"bar","width":1.4,"opacity":0.25},
    "encoding":{
     "x":{"field":"t","type":"temporal","scale":{"nice":false,"padding":0,"domain":[{"year":2022,"month":8,"date":30,"hours":8,"minutes":57,"seconds":36},{"year":2022,"month":8,"date":30,"hours":15,"minutes":30,"seconds":30}]},"axis":null},
     "y":{"field":"v","type":"quantitative","scale":{"domain":[-542,85695],"nice":false,"zero":false},"axis":null},
     "y2":{"datum":0},
     "color":{"condition":{"test":"datum.c > datum.o","value":"#ff0000"},"value":"#0000ff"}}}
  ]},
  {"layer":[
   {"data":{"name":"candles"},"mark":{"type":"rule","strokeWidth":1},
    "encoding":{
     "x":{"field":"t","type":"temporal","axis":null},
     "y":{"field":"l","type":"quantitative","scale":{"domain":[9658,10967],"nice":false,"zero":false},"axis":null},
     "y2":{"field":"h"},
     "color":{"condition":{"test":"datum.c > datum.o","value":"#ff0000"},"value":"#0000ff"}}},
   {"data":{"name":"candles"},"mark":{"type":"bar","width":1.2,"strokeWidth":1},
    "encoding":{
     "x":{"field":"t","type":"temporal","axis":null},
     "y":{"field":"o","type":"quantitative","axis":null},
     "y2":{"field":"c"},
     "color":{"condition":{"test":"datum.c > datum.o","value":"#ff0000"},"value":"#0000ff"},
     "stroke":{"condition":{"test":"datum.c > datum.o","value":"#ff0000"},"value":"#0000ff"}}},
   {"data":{"name":"handles"},"mark":{"type":"bar","width":4,"color":"white","stroke":"#444444","strokeWidth":1,"clip":false},
    "encoding":{"x":{"field":"t","type":"temporal","axis":null},"y":{"datum":9985,"type":"quantitative","axis":null},"y2":{"datum":10640}}}
  ]}
 ],
 "resolve":{"scale":{"y":"independent"}}
}
],
"spacing":15
}
